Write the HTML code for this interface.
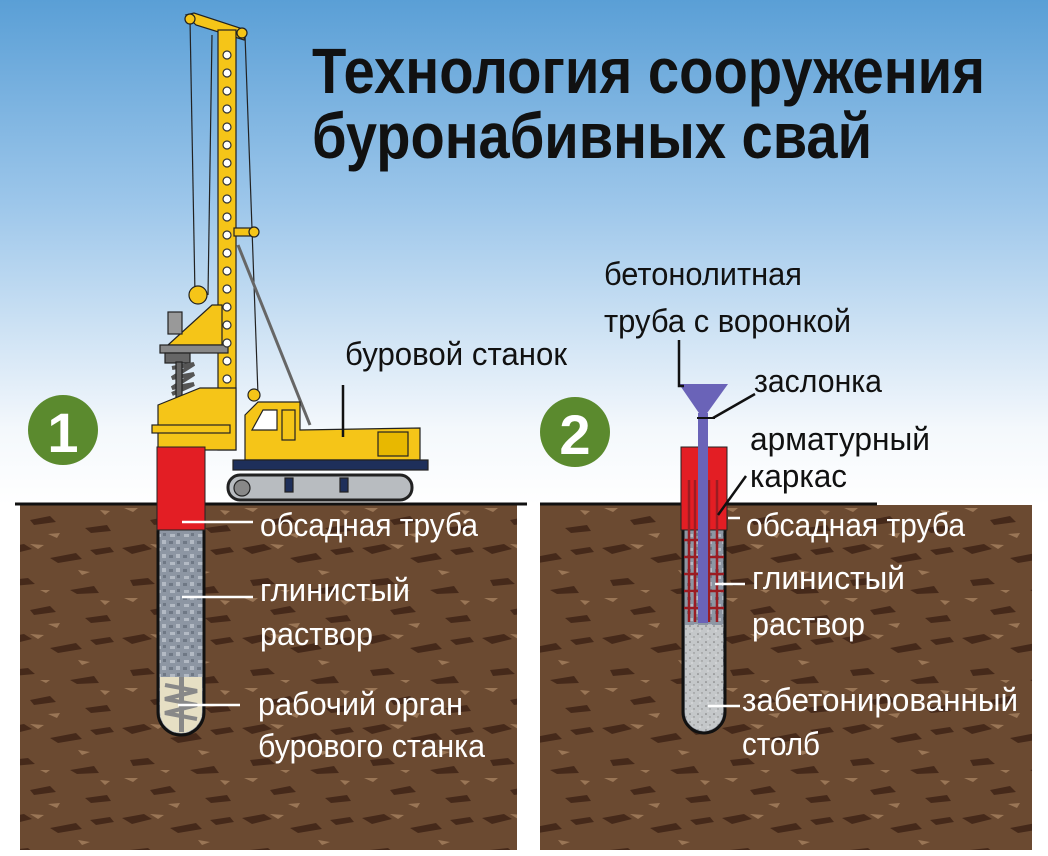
<!DOCTYPE html>
<html><head><meta charset="utf-8"><style>
html,body{margin:0;padding:0;width:1048px;height:856px;overflow:hidden;background:#fff}
svg{display:block}
text{font-family:"Liberation Sans Narrow","Liberation Sans",sans-serif}
</style></head><body>
<svg width="1048" height="856" viewBox="0 0 1048 856" xmlns="http://www.w3.org/2000/svg">
<defs>
<linearGradient id="sky" x1="0" y1="0" x2="0" y2="1">
<stop offset="0" stop-color="#5a9fd6"/><stop offset="0.4" stop-color="#9cc6ea"/><stop offset="0.85" stop-color="#f4f8fc"/><stop offset="1" stop-color="#ffffff"/>
</linearGradient>
<pattern id="soil" width="120" height="90" patternUnits="userSpaceOnUse">
<rect width="120" height="90" fill="#6b4a31"/>
<path d="M2 8 l22 -4 l8 5 l-20 5z M50 18 l26 -5 l6 6 l-24 4z M10 40 l18 -2 l7 6 l-22 2z M70 50 l24 -4 l5 7 l-22 1z M90 10 l20 -3 l4 5 l-18 3z M30 70 l20 -4 l6 6 l-22 3z M85 78 l22 -3 l4 6 l-20 2z" fill="#45291a"/>
<path d="M30 4 l14 1 l-6 4z M78 30 l12 2 l-8 3z M4 58 l14 0 l-5 4z M48 84 l12 -1 l-3 5z M100 60 l10 1 l-5 4z M40 50 l10 0 l-4 3z" fill="#9a7656"/>
</pattern>
<pattern id="clay" width="14" height="14" patternUnits="userSpaceOnUse">
<rect width="14" height="14" fill="#8d96a3"/><path d="M2 2h5v3h-5z M8 8h4v4h-4z" fill="#b3bac4"/><path d="M9 1h3v3h-3z M1 9h4v3h-4z" fill="#6f7885"/>
</pattern>
<pattern id="conc" width="8" height="8" patternUnits="userSpaceOnUse">
<rect width="8" height="8" fill="#c4c7c9"/><circle cx="2" cy="2" r="0.8" fill="#777"/><circle cx="6" cy="5" r="0.7" fill="#888"/><circle cx="4" cy="7" r="0.6" fill="#eee"/>
</pattern>
</defs>
<rect width="1048" height="856" fill="#fff"/>
<rect width="1048" height="505" fill="url(#sky)"/>
<rect x="20" y="505" width="497" height="345" fill="url(#soil)"/>
<rect x="540" y="505" width="492" height="345" fill="url(#soil)"/>
<line x1="15" y1="504" x2="527" y2="504" stroke="#111" stroke-width="3"/>
<line x1="540" y1="504" x2="877" y2="504" stroke="#111" stroke-width="3"/>

<text x="312" y="93" font-size="64" font-weight="bold" fill="#111" textLength="673" lengthAdjust="spacingAndGlyphs">Технология сооружения</text>
<text x="312" y="158" font-size="64" font-weight="bold" fill="#111" textLength="560" lengthAdjust="spacingAndGlyphs">буронабивных свай</text>

<circle cx="63" cy="430" r="35" fill="#5b8a2e"/>
<text x="63" y="452" font-size="56" font-weight="bold" fill="#fff" text-anchor="middle" font-family="Liberation Sans">1</text>
<circle cx="575" cy="432" r="35" fill="#5b8a2e"/>
<text x="575" y="454" font-size="56" font-weight="bold" fill="#fff" text-anchor="middle" font-family="Liberation Sans">2</text>

<g stroke="#222" stroke-width="1.2">
<line x1="190" y1="19" x2="195" y2="295" />
<line x1="212" y1="35" x2="208" y2="295"/>
<line x1="245" y1="35" x2="258" y2="395"/>
<line x1="238" y1="245" x2="310" y2="425" stroke="#666" stroke-width="3"/>
<polygon points="186,15 194,13 246,30 244,40 196,25" fill="#f5c518"/>
<rect x="218" y="30" width="18" height="420" fill="#f5c518"/>
<rect x="234" y="228" width="22" height="8" fill="#f5c518"/>
<circle cx="254" cy="232" r="5" fill="#f5c518"/>
<circle cx="190" cy="19" r="5" fill="#f5c518"/>
<circle cx="242" cy="33" r="5" fill="#f5c518"/>
<circle cx="198" cy="295" r="9" fill="#f5c518"/>
<polygon points="168,345 212,305 222,305 222,345" fill="#f5c518"/>
<rect x="168" y="312" width="14" height="22" fill="#999"/>
<rect x="160" y="345" width="68" height="8" fill="#888"/>
<rect x="165" y="353" width="25" height="10" fill="#666"/>
<path d="M172 368 l22 -4 l-22 14 l22 -4 l-22 14 l22 -4 l-22 10" fill="none" stroke="#555" stroke-width="4"/>
<rect x="176" y="362" width="6" height="45" fill="#666"/>
<polygon points="158,405 200,388 236,388 236,450 158,450" fill="#f5c518"/>
<rect x="152" y="425" width="78" height="8" fill="#f5c518"/>
<circle cx="254" cy="395" r="6" fill="#f5c518"/>
<polygon points="245,415 258,402 300,402 300,430 420,428 420,460 245,460" fill="#f5c518"/>
<polygon points="252,430 263,410 277,410 277,430" fill="#fff"/>
<rect x="282" y="410" width="13" height="30" fill="#f5c518"/>
<rect x="378" y="432" width="30" height="24" fill="#e8b800"/>
<rect x="233" y="460" width="195" height="10" fill="#1e2f5a"/>
<rect x="228" y="475" width="184" height="25" rx="12" fill="#b8bcc0" stroke="#222" stroke-width="3"/>
<circle cx="242" cy="488" r="8" fill="#888"/>
<rect x="285" y="478" width="8" height="14" fill="#1e2f5a"/>
<rect x="340" y="478" width="8" height="14" fill="#1e2f5a"/>
</g>
<g fill="#fff" stroke="#333" stroke-width="1.2">
<circle cx="227" cy="55" r="4"/><circle cx="227" cy="73" r="4"/><circle cx="227" cy="91" r="4"/><circle cx="227" cy="109" r="4"/><circle cx="227" cy="127" r="4"/><circle cx="227" cy="145" r="4"/><circle cx="227" cy="163" r="4"/><circle cx="227" cy="181" r="4"/><circle cx="227" cy="199" r="4"/><circle cx="227" cy="217" r="4"/><circle cx="227" cy="235" r="4"/><circle cx="227" cy="253" r="4"/><circle cx="227" cy="271" r="4"/><circle cx="227" cy="289" r="4"/><circle cx="227" cy="307" r="4"/><circle cx="227" cy="325" r="4"/><circle cx="227" cy="343" r="4"/><circle cx="227" cy="361" r="4"/><circle cx="227" cy="379" r="4"/>
</g>

<path d="M158 528 V712 a23 23 0 0 0 46 0 V528z" fill="url(#clay)" stroke="#111" stroke-width="3"/>
<path d="M160 677 H202 V712 a21 21 0 0 1 -42 0z" fill="#e6dfc4"/>
<path d="M165 685 l32 6 l-32 8 l32 6 l-32 8 l32 6" fill="none" stroke="#888" stroke-width="4"/>
<rect x="179" y="677" width="5" height="55" fill="#888"/>
<rect x="157" y="447" width="48" height="83" fill="#e31e24" stroke="#222" stroke-width="1"/>

<path d="M683 528 V712 a21 21 0 0 0 42 0 V528z" fill="url(#clay)" stroke="#111" stroke-width="3"/>
<path d="M685 625 H723 V712 a19 19 0 0 1 -38 0z" fill="url(#conc)"/>
<rect x="681" y="447" width="46" height="83" fill="#e31e24" stroke="#222" stroke-width="1"/>
<g stroke="#9b1c22" stroke-width="2.5">
<line x1="689" y1="480" x2="689" y2="622"/><line x1="695" y1="480" x2="695" y2="622"/><line x1="709" y1="480" x2="709" y2="622"/><line x1="717" y1="480" x2="717" y2="622"/>
<line x1="684" y1="540" x2="724" y2="540"/><line x1="684" y1="557" x2="724" y2="557"/><line x1="684" y1="574" x2="724" y2="574"/><line x1="684" y1="591" x2="724" y2="591"/><line x1="684" y1="608" x2="724" y2="608"/>
</g>
<rect x="698" y="413" width="10" height="210" fill="#6a63b8"/>
<polygon points="679,384 728,384 705,416 701,416" fill="#6a63b8"/>
<line x1="697" y1="418" x2="715" y2="418" stroke="#111" stroke-width="2"/>

<g stroke="#111" stroke-width="2.5" fill="none">
<line x1="343" y1="385" x2="343" y2="437"/>
<polyline points="679,340 679,386 684,386"/>
<line x1="755" y1="394" x2="713" y2="418"/>
<line x1="746" y1="476" x2="718" y2="515"/>
</g>
<g stroke="#fff" stroke-width="2.5">
<line x1="182" y1="522" x2="253" y2="522"/>
<line x1="182" y1="597" x2="253" y2="597"/>
<line x1="178" y1="705" x2="240" y2="705"/>
<line x1="728" y1="518" x2="740" y2="518"/>
<line x1="715" y1="584" x2="745" y2="584"/>
<line x1="708" y1="706" x2="740" y2="706"/>
</g>

<g font-size="32" fill="#111">
<text x="604" y="285" textLength="198" lengthAdjust="spacingAndGlyphs">бетонолитная</text>
<text x="604" y="332" textLength="247" lengthAdjust="spacingAndGlyphs">труба с воронкой</text>
<text x="345" y="365" textLength="222" lengthAdjust="spacingAndGlyphs">буровой станок</text>
<text x="754" y="392" textLength="128" lengthAdjust="spacingAndGlyphs">заслонка</text>
<text x="750" y="450" textLength="180" lengthAdjust="spacingAndGlyphs">арматурный</text>
<text x="750" y="487" textLength="97" lengthAdjust="spacingAndGlyphs">каркас</text>
</g>
<g font-size="32" fill="#fff">
<text x="260" y="536" textLength="218" lengthAdjust="spacingAndGlyphs">обсадная труба</text>
<text x="260" y="601" textLength="150" lengthAdjust="spacingAndGlyphs">глинистый</text>
<text x="260" y="645" textLength="113" lengthAdjust="spacingAndGlyphs">раствор</text>
<text x="258" y="715" textLength="205" lengthAdjust="spacingAndGlyphs">рабочий орган</text>
<text x="258" y="757" textLength="227" lengthAdjust="spacingAndGlyphs">бурового станка</text>
<text x="746" y="536" textLength="219" lengthAdjust="spacingAndGlyphs">обсадная труба</text>
<text x="752" y="589" textLength="153" lengthAdjust="spacingAndGlyphs">глинистый</text>
<text x="752" y="635" textLength="113" lengthAdjust="spacingAndGlyphs">раствор</text>
<text x="742" y="711" textLength="276" lengthAdjust="spacingAndGlyphs">забетонированный</text>
<text x="742" y="755" textLength="78" lengthAdjust="spacingAndGlyphs">столб</text>
</g>
</svg>
</body></html>
